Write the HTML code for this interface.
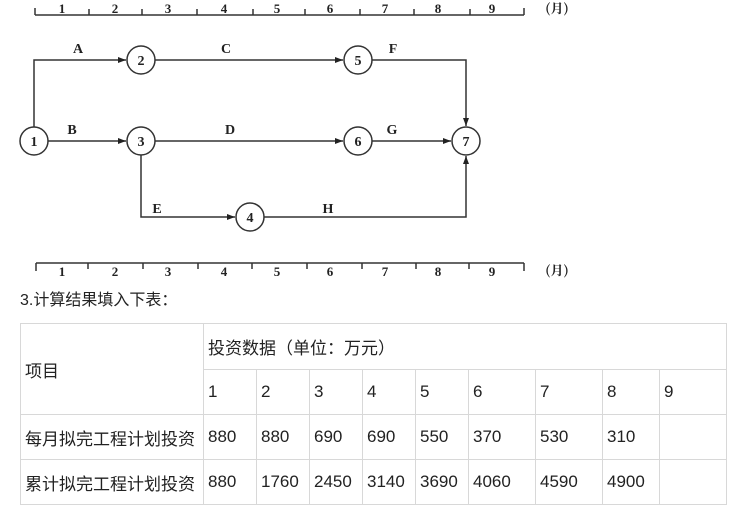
<!DOCTYPE html>
<html><head><meta charset="utf-8"><style>
body{margin:0;width:742px;height:510px;background:#fff;position:relative;overflow:hidden;font-family:"Liberation Sans","Noto Sans CJK SC",sans-serif;}
svg{position:absolute;left:0;top:0}
.t{position:absolute;font-size:16px;color:#222}
table{position:absolute;left:20px;top:323px;border-collapse:collapse;font-size:17px;color:#222;table-layout:fixed;width:706px}
td{border:1px solid #d8d8d8;padding:0 0 0 4px;height:44px;vertical-align:middle;white-space:nowrap;overflow:hidden}
</style></head><body>
<svg width="742" height="290" font-family="Liberation Serif, serif" font-weight="bold">
<defs><marker id="a" markerWidth="8" markerHeight="6" refX="8" refY="3" orient="auto" markerUnits="userSpaceOnUse"><path d="M0,0L8,3L0,6z" fill="#222"/></marker></defs>
<g stroke="#333" stroke-width="1.5" fill="none">
<path d="M35,15H524"/>
<path d="M35,8V15M89,9V15M142,9V15M197,9V15M253,9V15M305,9V15M360,9V15M414,9V15M470,9V15M524,8V15"/>
<path d="M36,263H524"/>
<path d="M36,263V271M88,263V269M143,263V269M198,263V269M252,263V269M307,263V269M362,263V269M416,263V269M469,263V269M524,263V271"/>
<path d="M34,127V60H126" marker-end="url(#a)"/>
<path d="M155,60H343" marker-end="url(#a)"/>
<path d="M372,60H466V126" marker-end="url(#a)"/>
<path d="M48,141H126" marker-end="url(#a)"/>
<path d="M155,141H343" marker-end="url(#a)"/>
<path d="M372,141H451" marker-end="url(#a)"/>
<path d="M141,155V217H235" marker-end="url(#a)"/>
<path d="M264,217H466V156" marker-end="url(#a)"/>
<g fill="#fff"><circle cx="34" cy="141" r="14"/><circle cx="141" cy="60" r="14"/><circle cx="358" cy="60" r="14"/><circle cx="141" cy="141" r="14"/><circle cx="358" cy="141" r="14"/><circle cx="466" cy="141" r="14"/><circle cx="250" cy="217" r="14"/></g>
</g>
<g fill="#222" font-size="14" text-anchor="middle">
<text x="34" y="146">1</text><text x="141" y="65">2</text><text x="358" y="65">5</text><text x="141" y="146">3</text><text x="358" y="146">6</text><text x="466" y="146">7</text><text x="250" y="222">4</text>
<text x="78" y="53">A</text><text x="226" y="53">C</text><text x="393" y="53">F</text>
<text x="72" y="134">B</text><text x="230" y="134">D</text><text x="392" y="134">G</text>
<text x="157" y="213">E</text><text x="328" y="213">H</text>
<g font-size="13"><text x="62" y="13">1</text><text x="115" y="13">2</text><text x="168" y="13">3</text><text x="224" y="13">4</text><text x="277" y="13">5</text><text x="330" y="13">6</text><text x="385" y="13">7</text><text x="438" y="13">8</text><text x="492" y="13">9</text>
<text x="62" y="276">1</text><text x="115" y="276">2</text><text x="168" y="276">3</text><text x="224" y="276">4</text><text x="277" y="276">5</text><text x="330" y="276">6</text><text x="385" y="276">7</text><text x="438" y="276">8</text><text x="492" y="276">9</text></g>
<text x="557" y="13" font-size="13" font-family="Noto Serif CJK SC,serif">(月)</text>
<text x="557" y="275" font-size="13" font-family="Noto Serif CJK SC,serif">(月)</text>
</g>
</svg>
<div class="t" style="left:20px;top:286px">3.计算结果填入下表：</div>
<table>
<colgroup><col style="width:183px"><col style="width:53px"><col style="width:53px"><col style="width:53px"><col style="width:53px"><col style="width:53px"><col style="width:67px"><col style="width:67px"><col style="width:57px"><col style="width:67px"></colgroup>
<tr><td rowspan="2">项目</td><td colspan="9" style="height:45px">投资数据（单位：万元）</td></tr>
<tr><td>1</td><td>2</td><td>3</td><td>4</td><td>5</td><td>6</td><td>7</td><td>8</td><td>9</td></tr>
<tr><td>每月拟完工程计划投资</td><td>880</td><td>880</td><td>690</td><td>690</td><td>550</td><td>370</td><td>530</td><td>310</td><td></td></tr>
<tr><td>累计拟完工程计划投资</td><td>880</td><td>1760</td><td>2450</td><td>3140</td><td>3690</td><td>4060</td><td>4590</td><td>4900</td><td></td></tr>
</table>
</body></html>
